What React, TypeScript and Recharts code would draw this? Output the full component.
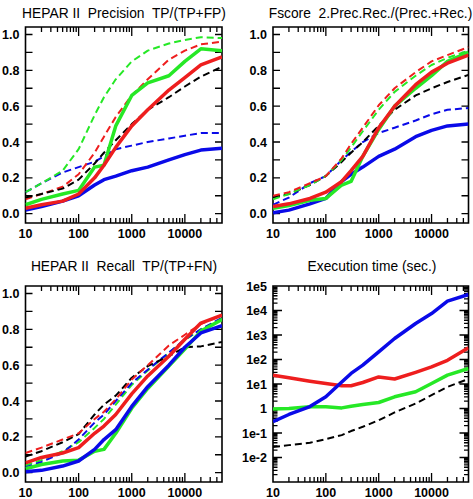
import React from 'react'
import { LineChart, Line, XAxis, YAxis, ReferenceArea } from 'recharts'

// sample sizes on the x axis (log scale)
const sizes = [10, 20, 50, 100, 200, 300, 500, 1000, 2000, 5000, 10000, 20000, 50000]

// HEPAR II precision TP/(TP+FP)
const precBlue = [0.02, 0.04, 0.07, 0.1, 0.16, 0.19, 0.21, 0.24, 0.26, 0.3, 0.33, 0.355, 0.365]
const precRed = [0.03, 0.05, 0.07, 0.11, 0.2, 0.27, 0.37, 0.49, 0.58, 0.69, 0.76, 0.83, 0.875]
const precGreen = [0.05, 0.08, 0.11, 0.13, 0.26, 0.27, 0.49, 0.66, 0.73, 0.77, 0.85, 0.92, 0.91]
const precBlueD = [0.12, 0.17, 0.23, 0.26, 0.29, 0.32, 0.36, 0.38, 0.4, 0.42, 0.435, 0.45, 0.45]
const precRedD = [0.08, 0.11, 0.15, 0.22, 0.34, 0.43, 0.54, 0.66, 0.75, 0.86, 0.91, 0.945, 0.96]
const precGreenD = [0.12, 0.17, 0.24, 0.36, 0.55, 0.65, 0.75, 0.85, 0.91, 0.95, 0.97, 0.985, 0.98]
const precBlackD = [0.09, 0.11, 0.14, 0.19, 0.28, 0.34, 0.41, 0.5, 0.58, 0.65, 0.71, 0.765, 0.82]

// Fscore
const fsBlue = [0.005, 0.02, 0.055, 0.085, 0.18, 0.22, 0.26, 0.32, 0.36, 0.43, 0.465, 0.49, 0.5]
const fsRed = [0.04, 0.055, 0.085, 0.12, 0.18, 0.24, 0.32, 0.48, 0.6, 0.72, 0.79, 0.84, 0.885]
const fsGreen = [0.03, 0.045, 0.075, 0.085, 0.16, 0.18, 0.32, 0.47, 0.6, 0.7, 0.77, 0.85, 0.9]
const fsBlueD = [0.05, 0.09, 0.17, 0.21, 0.3, 0.345, 0.4, 0.45, 0.48, 0.52, 0.555, 0.58, 0.59]
const fsRedD = [0.1, 0.12, 0.17, 0.21, 0.31, 0.39, 0.48, 0.605, 0.7, 0.79, 0.85, 0.885, 0.93]
const fsGreenD = [0.08, 0.11, 0.16, 0.21, 0.3, 0.37, 0.46, 0.58, 0.68, 0.77, 0.83, 0.87, 0.91]
const fsBlackD = [0.09, 0.11, 0.16, 0.21, 0.29, 0.34, 0.4, 0.49, 0.58, 0.66, 0.7, 0.735, 0.775]

// HEPAR II recall TP/(TP+FN)
const recBlue = [0.005, 0.013, 0.037, 0.065, 0.13, 0.185, 0.24, 0.37, 0.48, 0.6, 0.7, 0.78, 0.82]
const recRed = [0.055, 0.085, 0.11, 0.14, 0.22, 0.26, 0.325, 0.44, 0.54, 0.65, 0.745, 0.835, 0.88]
const recGreen = [0.022, 0.046, 0.065, 0.07, 0.12, 0.13, 0.22, 0.36, 0.47, 0.595, 0.69, 0.79, 0.855]
const recBlueD = [0.03, 0.06, 0.11, 0.185, 0.28, 0.325, 0.4, 0.5, 0.575, 0.67, 0.745, 0.8, 0.865]
const recRedD = [0.11, 0.14, 0.185, 0.22, 0.3, 0.34, 0.41, 0.52, 0.6, 0.71, 0.77, 0.83, 0.88]
const recGreenD = [0.04, 0.07, 0.12, 0.17, 0.25, 0.3, 0.38, 0.49, 0.57, 0.67, 0.74, 0.8, 0.86]
const recBlackD = [0.09, 0.12, 0.17, 0.215, 0.325, 0.38, 0.43, 0.53, 0.595, 0.65, 0.7, 0.705, 0.73]

// execution time (sec.)
const timeBlue = [0.29, 0.57, 1.2, 3.0, 12, 27, 59, 205, 720, 2950, 7500, 24000, 45000]
const timeRed = [23, 18, 13, 10.5, 8.5, 8.5, 11.5, 19.5, 16, 30, 50, 93, 300]
const timeGreen = [0.95, 1.0, 1.17, 1.17, 1.06, 1.24, 1.45, 1.76, 3.0, 4.8, 10.5, 23, 43]
const timeBlackD = [0.027, 0.032, 0.04, 0.056, 0.082, 0.12, 0.18, 0.33, 0.69, 1.6, 3.5, 7.6, 16]

const xMajorTicks = [10, 100, 1000, 10000]
const xMinorTicks = [
  20, 30, 40, 50, 60, 70, 80, 90, 200, 300, 400, 500, 600, 700, 800, 900,
  2000, 3000, 4000, 5000, 6000, 7000, 8000, 9000, 20000, 30000, 40000,
]
const linMajorTicks = [0, 0.2, 0.4, 0.6, 0.8, 1.0]
const linMinorTicks = [0.1, 0.3, 0.5, 0.7, 0.9]
const logMajorTicks = [1e-3, 1e-2, 1e-1, 1, 1e1, 1e2, 1e3, 1e4, 1e5]
const logLabels = ['', '1e-2', '1e-1', '1', '1e1', '1e2', '1e3', '1e4', '1e5']
const logMinorTicks = logMajorTicks
  .slice(0, -1)
  .flatMap((d) => [2, 3, 4, 5, 6, 7, 8, 9].map((m) => Number((m * d).toPrecision(3))))

const BLUE = '#0a0ae8'
const RED = '#ee1e1e'
const GREEN = '#26e826'
const BLACK = '#000000'
const FONT = '"Liberation Sans", Arial, Helvetica, sans-serif'
const X_DOMAIN: [number, number] = [10, 50000]

type Series = { key: string; values: number[]; color: string; dashed?: boolean }

const sameVal = (a: number, b: number) => a === b || Math.abs(a - b) <= 1e-9 * Math.abs(a)
const labelStyle = { fontFamily: FONT, fontSize: 12.5, fontWeight: 700, fill: '#000' }

const xLabelTick = (p: any) => (
  <text x={p.x} y={Number(p.y) + 14.5} textAnchor="middle" {...labelStyle}>
    {p.payload.value}
  </text>
)
const yLabelTick = (logY: boolean) => (p: any) => {
  const v = p.payload.value as number
  const label = logY ? logLabels[logMajorTicks.findIndex((m) => sameVal(m, v))] : v.toFixed(1)
  return (
    <text x={Number(p.x) - 6} y={Number(p.y) + 4.5} textAnchor="end" {...labelStyle}>
      {label}
    </text>
  )
}

// inward tick marks on all four sides of the plot rectangle handed over by ReferenceArea
const frameTicks = (logY: boolean, yDomain: [number, number]) => (p: any) => {
  const x = Number(p.x)
  const y = Number(p.y)
  const w = Number(p.width)
  const h = Number(p.height)
  if (![x, y, w, h].every(Number.isFinite)) return <g />
  const left = Math.min(x, x + w)
  const right = Math.max(x, x + w)
  const top = Math.min(y, y + h)
  const bottom = Math.max(y, y + h)
  const pw = right - left
  const ph = bottom - top
  const fx = (v: number) => left + (pw * Math.log10(v / X_DOMAIN[0])) / Math.log10(X_DOMAIN[1] / X_DOMAIN[0])
  const fy = (v: number) =>
    logY
      ? bottom - (ph * Math.log10(v / yDomain[0])) / Math.log10(yDomain[1] / yDomain[0])
      : bottom - (ph * (v - yDomain[0])) / (yDomain[1] - yDomain[0])
  let d = ''
  const vt = (v: number, len: number) => {
    const cx = fx(v)
    d += `M${cx},${bottom}V${bottom - len}M${cx},${top}V${top + len}`
  }
  const ht = (v: number, len: number) => {
    const cy = fy(v)
    d += `M${left},${cy}H${left + len}M${right},${cy}H${right - len}`
  }
  xMajorTicks.slice(1).forEach((v) => vt(v, 9))
  xMinorTicks.forEach((v) => vt(v, 5))
  if (logY) {
    logMajorTicks.slice(1, -1).forEach((v) => ht(v, 9))
    logMinorTicks.forEach((v) => ht(v, 4.5))
  } else {
    ;[...linMajorTicks, ...linMinorTicks].forEach((v) => ht(v, 7))
  }
  return <path d={d} stroke="#000" strokeWidth={1.3} fill="none" />
}

function Panel(props: {
  series: Series[]
  logY?: boolean
  left: number
  top: number
  width: number
  height: number
  marginTop: number
  marginRight: number
  yWidth: number
  xHeight: number
}) {
  const { series, logY, left, top, width, height, marginTop, marginRight, yWidth, xHeight } = props
  const data = sizes.map((n, i) => {
    const row: Record<string, number> = { n }
    series.forEach((s) => (row[s.key] = s.values[i]))
    return row
  })
  const yDomain: [number, number] = logY ? [1e-3, 1e5] : [-0.052, 1.042]
  const yScale = logY ? 'log' : 'linear'
  const yLabels = logY ? logMajorTicks.slice(1) : linMajorTicks
  const ordered = [...series.filter((s) => s.dashed), ...series.filter((s) => !s.dashed)]
  const ids = { xAxisId: 'b', yAxisId: 'l' }

  return (
    <div style={{ position: 'absolute', left, top }}>
      <LineChart width={width} height={height} data={data}
        margin={{ top: marginTop, right: marginRight, bottom: 0, left: 0 }}>
        <XAxis xAxisId="b" dataKey="n" type="number" scale="log" domain={X_DOMAIN} allowDataOverflow
          ticks={xMajorTicks} interval={0} tickSize={0} tickMargin={0} tickLine={false}
          axisLine={false} height={xHeight} tick={xLabelTick} />
        <YAxis yAxisId="l" type="number" scale={yScale} domain={yDomain} allowDataOverflow
          ticks={yLabels} interval={0} tickSize={0} tickMargin={0} tickLine={false}
          axisLine={false} width={yWidth} tick={yLabelTick(!!logY)} />
        {ordered.map((s) => (
          <Line key={s.key} {...ids} type="linear" dataKey={s.key} stroke={s.color}
            strokeWidth={s.dashed ? 2 : 3.5} strokeDasharray={s.dashed ? '7 4' : undefined}
            strokeLinejoin="round" dot={false} activeDot={false} isAnimationActive={false} />
        ))}
        <ReferenceArea {...ids} x1={X_DOMAIN[0]} x2={X_DOMAIN[1]} y1={yDomain[0]} y2={yDomain[1]}
          ifOverflow="visible" shape={frameTicks(!!logY, yDomain)} />
        <ReferenceArea {...ids} x1={X_DOMAIN[0]} x2={X_DOMAIN[1]} y1={yDomain[0]} y2={yDomain[1]}
          fill="none" fillOpacity={0} stroke="#000" strokeWidth={1.6} strokeOpacity={1} ifOverflow="visible" />
      </LineChart>
    </div>
  )
}

const precSeries: Series[] = [
  { key: 'blueD', values: precBlueD, color: BLUE, dashed: true },
  { key: 'greenD', values: precGreenD, color: GREEN, dashed: true },
  { key: 'redD', values: precRedD, color: RED, dashed: true },
  { key: 'blackD', values: precBlackD, color: BLACK, dashed: true },
  { key: 'blue', values: precBlue, color: BLUE },
  { key: 'green', values: precGreen, color: GREEN },
  { key: 'red', values: precRed, color: RED },
]
const fsSeries: Series[] = [
  { key: 'blueD', values: fsBlueD, color: BLUE, dashed: true },
  { key: 'blackD', values: fsBlackD, color: BLACK, dashed: true },
  { key: 'greenD', values: fsGreenD, color: GREEN, dashed: true },
  { key: 'redD', values: fsRedD, color: RED, dashed: true },
  { key: 'blue', values: fsBlue, color: BLUE },
  { key: 'green', values: fsGreen, color: GREEN },
  { key: 'red', values: fsRed, color: RED },
]
const recSeries: Series[] = [
  { key: 'greenD', values: recGreenD, color: GREEN, dashed: true },
  { key: 'blueD', values: recBlueD, color: BLUE, dashed: true },
  { key: 'blackD', values: recBlackD, color: BLACK, dashed: true },
  { key: 'redD', values: recRedD, color: RED, dashed: true },
  { key: 'green', values: recGreen, color: GREEN },
  { key: 'blue', values: recBlue, color: BLUE },
  { key: 'red', values: recRed, color: RED },
]
const timeSeries: Series[] = [
  { key: 'blackD', values: timeBlackD, color: BLACK, dashed: true },
  { key: 'green', values: timeGreen, color: GREEN },
  { key: 'red', values: timeRed, color: RED },
  { key: 'blue', values: timeBlue, color: BLUE },
]

const titles = [
  { text: 'HEPAR II  Precision  TP/(TP+FP)', x: 124, y: 17.5 },
  { text: 'Fscore  2.Prec.Rec./(Prec.+Rec.)', x: 370.5, y: 17.5 },
  { text: 'HEPAR II  Recall  TP/(TP+FN)', x: 124, y: 271 },
  { text: 'Execution time (sec.)', x: 372, y: 271 },
]

export default function App() {
  return (
    <div style={{ position: 'absolute', left: 0, top: 0, width: 473, height: 499, background: '#fff', overflow: 'hidden' }}>
      <Panel series={precSeries} left={0} top={0} width={236} height={250} marginTop={27} marginRight={14} yWidth={25.5} xHeight={27} />
      <Panel series={fsSeries} left={236} top={0} width={237} height={250} marginTop={27} marginRight={4.5} yWidth={37} xHeight={27} />
      <Panel series={recSeries} left={0} top={250} width={236} height={249} marginTop={36} marginRight={14} yWidth={25.5} xHeight={17} />
      <Panel series={timeSeries} logY left={236} top={250} width={237} height={249} marginTop={36} marginRight={4.5} yWidth={37} xHeight={17} />
      <svg width={473} height={499} style={{ position: 'absolute', left: 0, top: 0, pointerEvents: 'none' }}>
        {titles.map((t) => (
          <text key={t.text} x={t.x} y={t.y} textAnchor="middle" fontFamily={FONT} fontSize={13.8} fill="#000" style={{ whiteSpace: 'pre' }}>
            {t.text}
          </text>
        ))}
      </svg>
    </div>
  )
}
